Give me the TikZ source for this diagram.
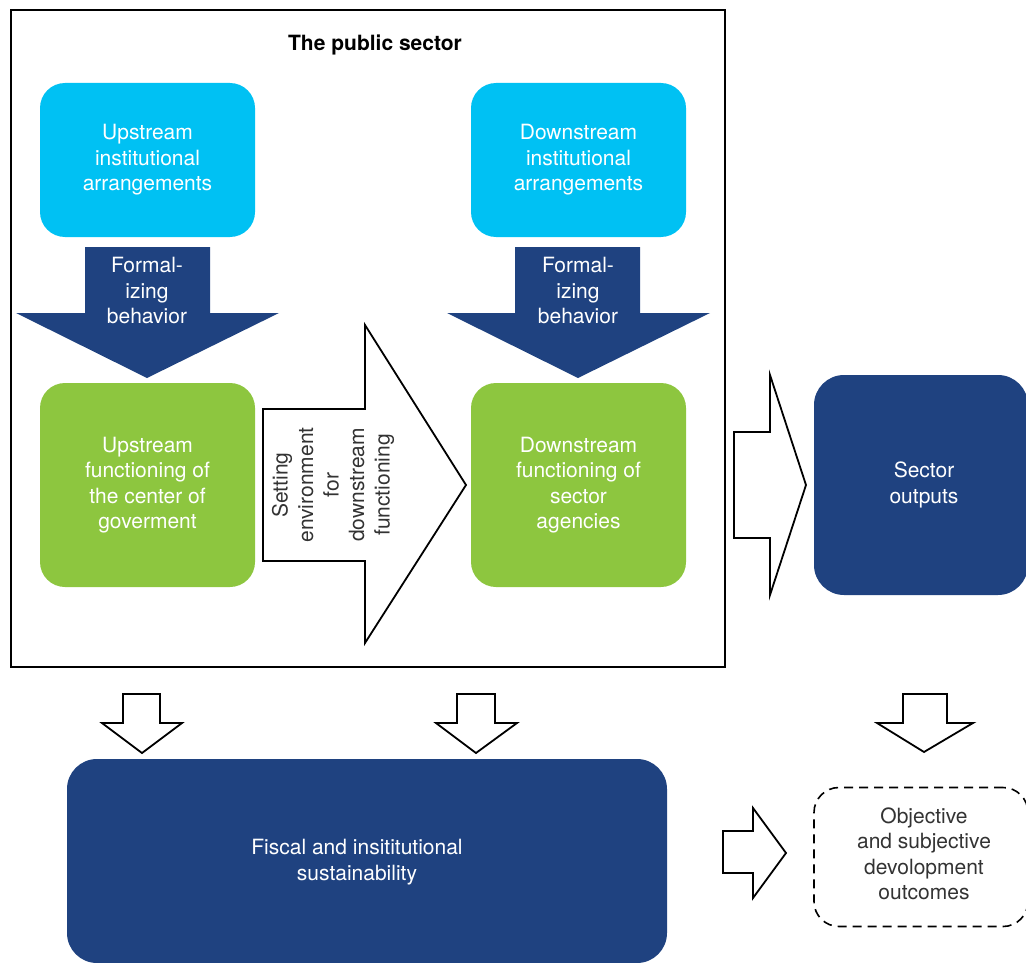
\documentclass[tikz,border=0pt]{standalone}
\usepackage{fontspec}
\setmainfont{TeX Gyre Heros}
\usetikzlibrary{positioning}
\definecolor{psCyan}{HTML}{00C1F3}
\definecolor{psGreen}{HTML}{8DC63F}
\definecolor{psNavy}{HTML}{1F4280}
\definecolor{psGray}{HTML}{333333}

\begin{document}
\begin{tikzpicture}[x=1pt, y=-1pt,
  every node/.style={font=\fontsize{21}{25.5}\selectfont, align=center, inner sep=0pt},
  instbox/.style={rounded corners=25pt, fill=psCyan, text=white,
    minimum width=215pt, minimum height=154pt},
  funcbox/.style={rounded corners=25pt, fill=psGreen, text=white,
    minimum width=215pt, minimum height=204pt},
  navybox/.style={rounded corners=30pt, fill=psNavy, text=white},
  formarrow/.style={fill=psNavy},
  openarrow/.style={draw=black, fill=white, line width=1.8pt, line join=miter},
  ]
  \useasboundingbox (0,0) rectangle (1026,963);

  % the public sector frame
  \draw[line width=2pt] (11,10) rectangle (725,667);
  \node[font=\fontsize{21}{25.5}\selectfont\bfseries] (title) at (375,45) {The public sector};

  % institutional arrangements
  \node[instbox] (upInst) at (147.5,160) {Upstream\\institutional\\arrangements};
  \node[instbox] (downInst) at (578.5,160) {Downstream\\institutional\\arrangements};

  % formalizing behavior
  \fill[formarrow] (85,247) -- (210,247) -- (210,313) -- (279,313) -- (147,378)
    -- (16,313) -- (85,313) -- cycle;
  \node[text=white] (upForm) at (147,291) {Formal-\\izing\\behavior};
  \fill[formarrow] (515,247) -- (640,247) -- (640,313) -- (710,313) -- (578,378)
    -- (447,313) -- (515,313) -- cycle;
  \node[text=white] (downForm) at (578,291) {Formal-\\izing\\behavior};

  % functioning
  \node[funcbox] (upFunc) at (147.5,485) {Upstream\\functioning of\\the center of\\goverment};
  \node[funcbox] (downFunc) at (578.5,485) {Downstream\\functioning of\\sector\\agencies};

  % setting environment
  \draw[openarrow] (263,409) -- (365,409) -- (365,325) -- (466,485) -- (365,643)
    -- (365,561) -- (263,561) -- cycle;
  \node[rotate=90, text=psGray] (setEnv) at (333,485)
    {Setting\\environment\\for\\downstream\\functioning};

  % sector outputs
  \draw[openarrow] (734,432) -- (770,432) -- (770,375) -- (806,485) -- (770,595)
    -- (770,538) -- (734,538) -- cycle;
  \node[navybox, minimum width=214pt, minimum height=220pt] (outputs) at (921,485) {};
  \node[text=white] (outputsText) at (924,485) {Sector\\outputs};

  % down arrows
  \draw[openarrow] (123,694) -- (160,694) -- (160,723) -- (182,723) -- (142,753)
    -- (102,723) -- (123,723) -- cycle;
  \draw[openarrow] (457,694) -- (495,694) -- (495,723) -- (517,723) -- (476,753)
    -- (436,723) -- (457,723) -- cycle;
  \draw[openarrow] (903,694) -- (947,694) -- (947,723) -- (973,723) -- (924,752)
    -- (877,723) -- (903,723) -- cycle;

  % sustainability and outcomes
  \node[navybox, minimum width=600pt, minimum height=204pt] (fiscal) at (367,861) {};
  \node[text=white] (fiscalText) at (357,862) {Fiscal and insititutional\\sustainability};
  \draw[openarrow] (723,831) -- (753,831) -- (753,808) -- (786,853) -- (753,898)
    -- (753,873) -- (723,873) -- cycle;
  \node[draw=black, dash pattern=on 9pt off 6pt, line width=1.6pt, rounded corners=25pt,
    minimum width=214pt, minimum height=139pt] (outcomes) at (921,857) {};
  \node[text=psGray] (outcomesText) at (924,854)
    {Objective\\and subjective\\devolopment\\outcomes};
\end{tikzpicture}
\end{document}
